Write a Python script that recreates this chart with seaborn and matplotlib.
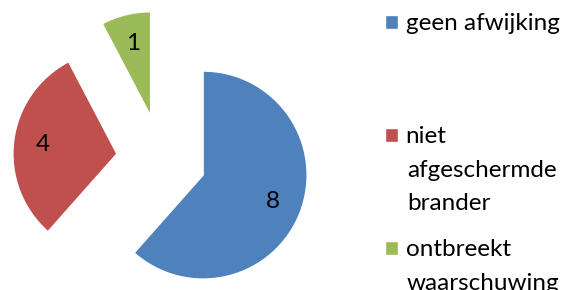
import matplotlib
matplotlib.use("Agg")
import matplotlib.pyplot as plt
import seaborn as sns

# data
categories = ["geen afwijking", "niet afgeschermde brander", "ontbreekt waarschuwing"]
values = [8, 4, 1]
# legend lines as wrapped in the original
legend_lines = [["geen afwijking"], ["niet", "afgeschermde", "brander"], ["ontbreekt", "waarschuwing"]]
colors = ["#4F81BD", "#C0504D", "#9BBB59"]

sns.set_theme(style="white")
plt.rcParams["font.family"] = ["Lato", "DejaVu Sans"]
plt.rcParams["text.color"] = "black"

fs = 17.5

fig = plt.figure(figsize=(5.73, 2.90), dpi=100)
ax = fig.add_axes([0, 0, 1, 1])

total = sum(values)
wedges, texts, autotexts = ax.pie(
    values,
    colors=colors,
    startangle=90,
    counterclock=False,
    explode=[0.43] * len(values),
    autopct=lambda p: f"{round(p * total / 100)}",
    pctdistance=0.72,
    textprops={"fontsize": fs, "color": "black"},
)

# pie centre at (161, 159) px, radius 104 px
r = 104.0
cx, cy = 161.3, 159.2
ax.set_xlim(-cx / r, (573 - cx) / r)
ax.set_ylim(-(290 - cy) / r, cy / r)
ax.set_aspect("equal")
ax.axis("off")

# legend: one entry per block, first line next to the square
# (fig.legend already attaches each legend to the figure)
centres = [24, 137, 250]
for w, lines, yc in zip(wedges, legend_lines, centres):
    fig.legend(
        handles=[w], labels=[lines[0]],
        loc="center left", bbox_to_anchor=(385 / 573, 1 - yc / 290),
        frameon=False, borderpad=0, borderaxespad=0,
        handlelength=0.55, handleheight=0.55, handletextpad=0.3,
        fontsize=fs, labelcolor="black",
    )
    for i, extra in enumerate(lines[1:], start=1):
        fig.text(407 / 573, 1 - (yc + 7 + 33 * i) / 290, extra,
                 fontsize=fs, va="baseline", ha="left", color="black")

fig.savefig("out.png", dpi=100)
